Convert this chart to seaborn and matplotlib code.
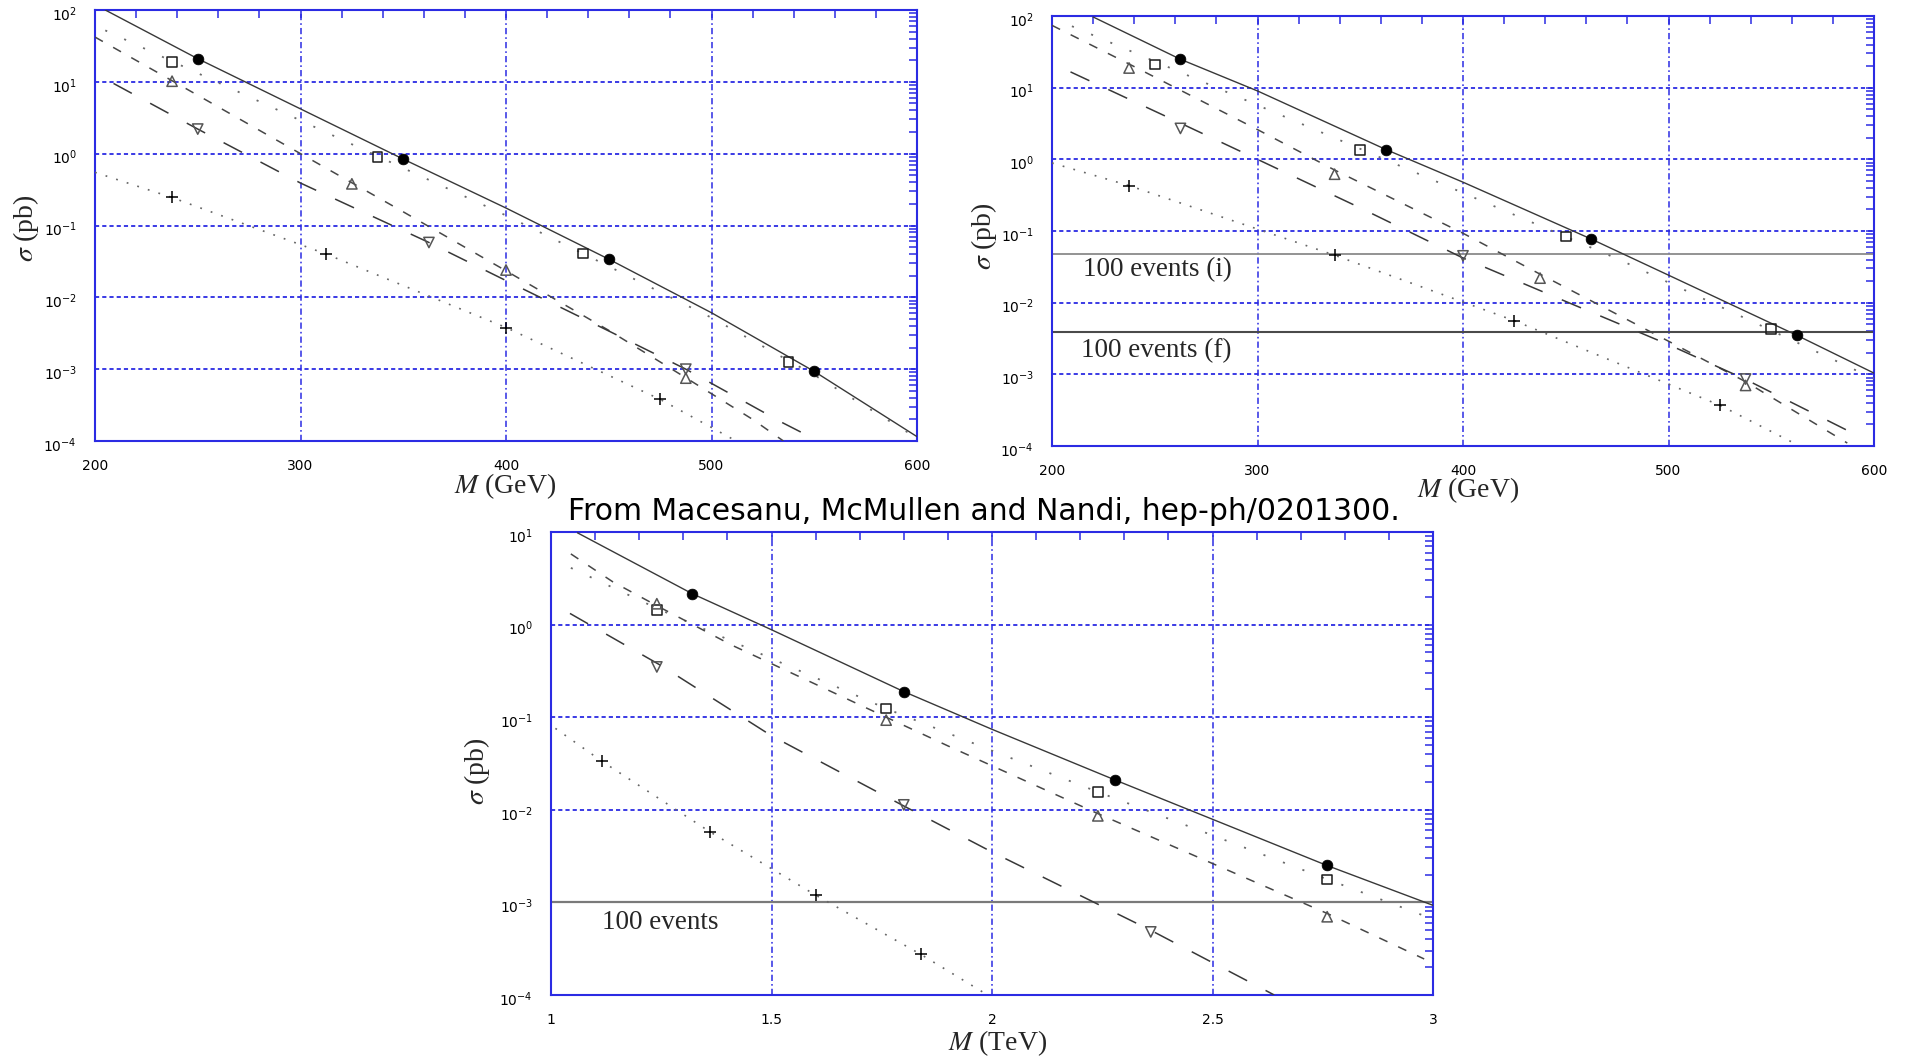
import numpy as np
import matplotlib
matplotlib.use("Agg")
import matplotlib.pyplot as plt
import matplotlib.transforms as mtransforms
import seaborn as sns
from matplotlib.ticker import (MultipleLocator, FixedLocator, FixedFormatter,
                               NullFormatter, LogFormatterSciNotation)

# ---------------- data: panel A (top-left, M in GeV) ----------------
a_solid_x = [205, 250, 300, 350, 400, 450, 500, 550, 600]
a_solid_y = [100, 21, 4.2, 0.84, 0.175, 0.034, 0.0061, 0.00093, 0.000115]
a_dot_x = [205, 250, 300, 350, 400, 450, 500, 550, 600]
a_dot_y = [52, 13.2, 2.9, 0.63, 0.138, 0.027, 0.0052, 0.00083, 0.00011]
a_sdash_x = [200, 250, 300, 350, 400, 450, 487.5, 520, 535]
a_sdash_y = [42, 6.5, 1.0, 0.155, 0.0234, 0.00347, 0.00076, 0.0002, 0.0001]
a_ldash_x = [209, 250, 300, 362.5, 400, 450, 487.5, 534.5, 552]
a_ldash_y = [9.5, 2.2, 0.39, 0.058, 0.0171, 0.0034, 0.001, 0.00018, 0.0001]
a_pdot_x = [200, 237.5, 312.5, 400, 475, 512]
a_pdot_y = [0.55, 0.245, 0.04, 0.0038, 0.00038, 0.0001]

a_circ_x = [250, 350, 450, 550]
a_circ_y = [21, 0.84, 0.034, 0.00093]
a_sq_x = [237.5, 337.5, 437.5, 537.5]
a_sq_y = [19, 0.89, 0.041, 0.00126]
a_tu_x = [237.5, 325, 400, 487.5]
a_tu_y = [10.2, 0.38, 0.024, 0.00075]
a_td_x = [250, 362.5, 487.5]
a_td_y = [2.2, 0.058, 0.001]
a_pl_x = [237.5, 312.5, 400, 475]
a_pl_y = [0.25, 0.04, 0.0038, 0.00038]

# ---------------- data: panel B (top-right, M in GeV) ----------------
b_solid_x = [220, 262.5, 300, 362.5, 400, 462.5, 500, 562.5, 600]
b_solid_y = [97, 24.9, 9.0, 1.37, 0.48, 0.077, 0.0242, 0.0035, 0.00104]
b_dot_x = [209.7, 250, 300, 350, 397, 450, 476.4, 550, 592.3, 600]
b_dot_y = [72, 23.3, 5.7, 1.4, 0.37, 0.083, 0.0395, 0.0041, 0.0011, 0.00087]
b_sdash_x = [200, 237.5, 300, 337.5, 400, 437.5, 500, 537.5, 587]
b_sdash_y = [74, 21.4, 2.6, 0.71, 0.093, 0.025, 0.0029, 0.00079, 0.00011]
b_ldash_x = [209, 262.5, 300, 350, 400, 450, 500, 537.5, 592]
b_ldash_y = [16.6, 3.2, 1.0, 0.21, 0.042, 0.0104, 0.0026, 0.00085, 0.00014]
b_pdot_x = [200, 237.5, 337.5, 425, 525, 561]
b_pdot_y = [0.89, 0.43, 0.046, 0.0056, 0.00037, 0.00011]

b_circ_x = [262.5, 362.5, 462.5, 562.5]
b_circ_y = [24.9, 1.37, 0.077, 0.0035]
b_sq_x = [250, 350, 450, 550]
b_sq_y = [21, 1.34, 0.0836, 0.0043]
b_tu_x = [237.5, 337.5, 437.5, 537.5]
b_tu_y = [18.8, 0.62, 0.022, 0.0007]
b_td_x = [262.5, 400, 537.5]
b_td_y = [2.7, 0.045, 0.00086]
b_pl_x = [237.5, 337.5, 425, 525]
b_pl_y = [0.43, 0.046, 0.0056, 0.00037]
b_events_i = 0.048
b_events_f = 0.00395

# ---------------- data: panel C (bottom, M in TeV) ----------------
c_solid_x = [1.06, 1.32, 1.5, 1.8, 2.0, 2.28, 2.5, 2.76, 3.0]
c_solid_y = [9.8, 2.16, 0.88, 0.189, 0.074, 0.0209, 0.0079, 0.0025, 0.00093]
c_dot_x = [1.045, 1.24, 1.5, 1.76, 2.0, 2.24, 2.5, 2.76, 3.0]
c_dot_y = [4.1, 1.5, 0.43, 0.124, 0.0435, 0.0156, 0.0053, 0.00178, 0.00066]
c_sdash_x = [1.045, 1.14, 1.24, 1.41, 1.76, 1.9, 2.24, 2.76, 2.98]
c_sdash_y = [5.8, 2.9, 1.6, 0.6, 0.1, 0.049, 0.0091, 0.00076, 0.000245]
c_ldash_x = [1.043, 1.25, 1.5, 1.8, 2.0, 2.36, 2.6, 2.64]
c_ldash_y = [1.32, 0.36, 0.063, 0.011, 0.0035, 0.0005, 0.000126, 0.0001]
c_pdot_x = [1.01, 1.116, 1.36, 1.6, 1.839, 1.99]
c_pdot_y = [0.0757, 0.0333, 0.0058, 0.0012, 0.000274, 0.0001]

c_circ_x = [1.32, 1.8, 2.28, 2.76]
c_circ_y = [2.16, 0.189, 0.0209, 0.00253]
c_sq_x = [1.24, 1.76, 2.24, 2.76]
c_sq_y = [1.43, 0.124, 0.0156, 0.00177]
c_tu_x = [1.24, 1.76, 2.24, 2.76]
c_tu_y = [1.68, 0.093, 0.0086, 0.0007]
c_td_x = [1.24, 1.8, 2.36]
c_td_y = [0.349, 0.0113, 0.00048]
c_pl_x = [1.116, 1.36, 1.6, 1.839]
c_pl_y = [0.0333, 0.0058, 0.0012, 0.000274]
c_events = 0.001

gev_ticks = [200, 300, 400, 500, 600]
gev_ticklabels = ["200", "300", "400", "500", "600"]
tev_ticks = [1, 1.5, 2, 2.5, 3]
tev_ticklabels = ["1", "1.5", "2", "2.5", "3"]

title_text = "From Macesanu, McMullen and Nandi, hep-ph/0201300."

# ---------------- style ----------------
sns.set_style("white")
plt.rcParams['font.family'] = ['DejaVu Sans']
plt.rcParams['lines.scale_dashes'] = False
plt.rcParams['mathtext.fontset'] = 'dejavusans'

W, H = 1905, 1059
fig = plt.figure(figsize=(W / 100, H / 100), dpi=100)
BLUE = '#2b2be3'
SERIF = ['Liberation Serif', 'DejaVu Serif']


def rect(l, t, r, b):
    return [l / W, 1 - b / H, (r - l) / W, (b - t) / H]


LINE_STYLES = {
    'solid': dict(color='#383838', lw=1.0, ls='-'),
    'dot': dict(color='#6a6a6a', lw=1.3, ls=(0, (1.5, 13.5))),
    'sdash': dict(color='#474747', lw=1.1, ls=(0, (6.5, 8.5))),
    'ldash': dict(color='#383838', lw=1.1, ls=(0, (15, 15))),
    'pdot': dict(color='#666666', lw=1.2, ls=(0, (1.3, 6.7))),
}


def draw_panel(box, xlim, ylim, xminor, xticks, xticklabels, curves, marks):
    ax = fig.add_axes(rect(*box))
    ax.set_yscale('log')
    ax.set_xlim(*xlim)
    ax.set_ylim(*ylim)
    for key, xs, ys in curves:
        st = LINE_STYLES[key]
        sns.lineplot(x=xs, y=ys, ax=ax, color=st['color'], linewidth=st['lw'],
                     linestyle=st['ls'], estimator=None, zorder=3)
    cx, cy, sx, sy, ux, uy, dx, dy, px, py = marks
    sns.scatterplot(x=cx, y=cy, ax=ax, marker='o', s=60, color='black',
                    edgecolor='black', linewidth=0.5, zorder=5)
    sns.scatterplot(x=sx, y=sy, ax=ax, marker='s', s=48, color='black',
                    facecolor='none', edgecolor='#1a1a1a', linewidth=1.1, zorder=5)
    sns.scatterplot(x=ux, y=uy, ax=ax, marker='^', s=55, color='#555555',
                    facecolor='none', edgecolor='#555555', linewidth=1.1, zorder=5)
    sns.scatterplot(x=dx, y=dy, ax=ax, marker='v', s=55, color='#555555',
                    facecolor='none', edgecolor='#555555', linewidth=1.1, zorder=5)
    sns.scatterplot(x=px, y=py, ax=ax, marker='+', s=80, color='black',
                    linewidth=1.1, zorder=5)
    # ticks: only values inside the visible range
    e_lo, e_hi = int(round(np.log10(ylim[0]))), int(round(np.log10(ylim[1])))
    decades = [10.0 ** e for e in range(e_lo, e_hi + 1)]
    minors = [m * 10.0 ** e for e in range(e_lo, e_hi) for m in range(2, 10)]
    ax.xaxis.set_major_locator(FixedLocator(xticks))
    ax.xaxis.set_major_formatter(FixedFormatter(xticklabels))
    ax.xaxis.set_minor_locator(MultipleLocator(xminor))
    ax.yaxis.set_major_locator(FixedLocator(decades))
    ax.yaxis.set_major_formatter(LogFormatterSciNotation())
    ax.yaxis.set_minor_locator(FixedLocator(minors))
    ax.yaxis.set_minor_formatter(NullFormatter())
    ax.tick_params(which='both', direction='in', top=True, right=True,
                   color=BLUE, width=1.1, length=5.5, labelsize=10,
                   labelcolor='black')
    ax.tick_params(axis='x', which='major', pad=13)
    ax.tick_params(axis='y', which='major', pad=13)
    for sp in ax.spines.values():
        sp.set_color(BLUE)
        sp.set_linewidth(1.5)
    ax.grid(False)
    for xv in xticks:
        ax.axvline(xv, color=BLUE, lw=1.1, ls=(0, (4.5, 2.2, 1.2, 2.2)), zorder=1)
    for dv in decades:
        ax.axhline(dv, color=BLUE, lw=1.3, ls=(0, (3.0, 2.2)), zorder=1)
    ax.set_xlabel('')
    ax.set_ylabel('')
    return ax


axA = draw_panel((95, 10, 917, 441), (200, 600), (1e-4, 1e2), 20,
                 gev_ticks, gev_ticklabels,
                 [('solid', a_solid_x, a_solid_y), ('dot', a_dot_x, a_dot_y),
                  ('sdash', a_sdash_x, a_sdash_y), ('ldash', a_ldash_x, a_ldash_y),
                  ('pdot', a_pdot_x, a_pdot_y)],
                 (a_circ_x, a_circ_y, a_sq_x, a_sq_y, a_tu_x, a_tu_y,
                  a_td_x, a_td_y, a_pl_x, a_pl_y))

axB = draw_panel((1052, 16, 1874, 446), (200, 600), (1e-4, 1e2), 20,
                 gev_ticks, gev_ticklabels,
                 [('solid', b_solid_x, b_solid_y), ('dot', b_dot_x, b_dot_y),
                  ('sdash', b_sdash_x, b_sdash_y), ('ldash', b_ldash_x, b_ldash_y),
                  ('pdot', b_pdot_x, b_pdot_y)],
                 (b_circ_x, b_circ_y, b_sq_x, b_sq_y, b_tu_x, b_tu_y,
                  b_td_x, b_td_y, b_pl_x, b_pl_y))
axB.axhline(b_events_i, color='#8a8a8a', lw=1.3, zorder=2)
axB.axhline(b_events_f, color='#4a4a4a', lw=1.5, zorder=2)
axB.text(215, 0.0286, "100 events (i)", family=SERIF, fontsize=19.5, ha='left', va='center')
axB.text(214, 0.00213, "100 events (f)", family=SERIF, fontsize=19.5, ha='left', va='center')

axC = draw_panel((551, 532, 1433, 995), (1, 3), (1e-4, 1e1), 0.1,
                 tev_ticks, tev_ticklabels,
                 [('solid', c_solid_x, c_solid_y), ('dot', c_dot_x, c_dot_y),
                  ('sdash', c_sdash_x, c_sdash_y), ('ldash', c_ldash_x, c_ldash_y),
                  ('pdot', c_pdot_x, c_pdot_y)],
                 (c_circ_x, c_circ_y, c_sq_x, c_sq_y, c_tu_x, c_tu_y,
                  c_td_x, c_td_y, c_pl_x, c_pl_y))
axC.axhline(c_events, color='#7a7a7a', lw=1.6, zorder=2)
axC.text(1.116, 6.07e-4, "100 events", family=SERIF, fontsize=19.5, ha='left', va='center')


def ftext(x, y, s, **kw):
    fig.text(x / W, 1 - y / H, s, **kw)


lab = dict(family=SERIF, fontsize=20, math_fontfamily='stix', ha='center', va='center')
ftext(505, 486, r'$M$ (GeV)', **lab)
ftext(1468, 490, r'$M$ (GeV)', **lab)
ftext(998, 1043, r'$M$ (TeV)', **lab)
ftext(26, 228, r'$\sigma$ (pb)', rotation=90, **lab)
ftext(984, 236, r'$\sigma$ (pb)', rotation=90, **lab)
ftext(477, 771, r'$\sigma$ (pb)', rotation=90, **lab)

ftext(984, 512, title_text, fontsize=21.5, ha='center', va='center', color='black')

# shift y tick labels slightly downward as in the reference
fig.canvas.draw()
shift = mtransforms.ScaledTranslation(0, -3 / 100, fig.dpi_scale_trans)
for ax in (axA, axB, axC):
    for lbl in ax.yaxis.get_majorticklabels():
        lbl.set_transform(lbl.get_transform() + shift)

fig.savefig('out.png', dpi=100)
